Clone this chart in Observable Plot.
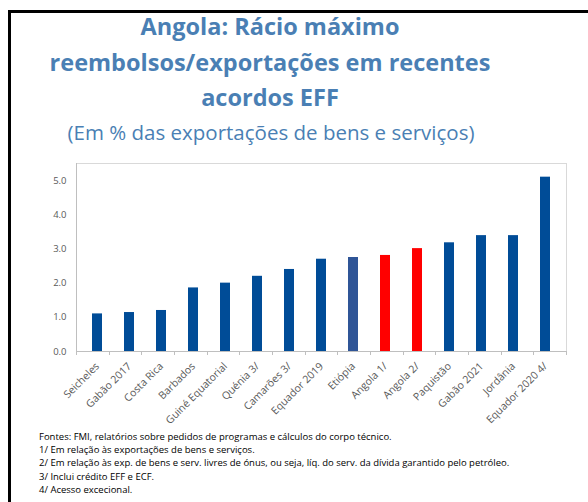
<!DOCTYPE html>
<html>
<head>
<meta charset="utf-8">
<script src="https://cdn.jsdelivr.net/npm/d3@7"></script>
<script src="https://cdn.jsdelivr.net/npm/@observablehq/plot@0.6"></script>
<style>
  html, body { margin: 0; padding: 0; background: #fff; width: 588px; height: 502px; overflow: hidden; position: relative; }
  #frame { position: absolute; left: 8px; top: 10px; width: 640px; height: 560px; border-left: 3px solid #000; border-top: 3px solid #000; box-sizing: border-box; }
  #title { position: absolute; left: 0; width: 540px; top: 9px; text-align: center; color: #4a7fb4; font-family: "Open Sans", sans-serif; font-weight: 700; font-size: 23.5px; line-height: 35.5px; }
  #subtitle { position: absolute; left: 0; width: 542px; top: 118px; text-align: center; color: #4a7fb4; font-family: "Open Sans", sans-serif; font-size: 20.5px; line-height: 28px; }
  #chart { position: absolute; left: 0; top: 150px; }
  #notes { position: absolute; left: 39px; top: 430px; font-family: "Open Sans", sans-serif; font-size: 9.5px; line-height: 13.2px; color: #000; }
</style>
</head>
<body>
<div id="frame"></div>
<div id="title">Angola: Rácio máximo<br>reembolsos/exportações em recentes<br>acordos EFF</div>
<div id="subtitle">(Em % das exportações de bens e serviços)</div>
<div id="chart"></div>
<div id="notes">
Fontes: FMI, relatórios sobre pedidos de programas e cálculos do corpo técnico.<br>
1/ Em relação às exportações de bens e serviços.<br>
2/ Em relação às exp. de bens e serv. livres de ónus, ou seja, líq. do serv. da dívida garantido pelo petróleo.<br>
3/ Inclui crédito EFF e ECF.<br>
4/ Acesso excecional.
</div>
<script>
const countries = ["Seicheles", "Gabão 2017", "Costa Rica", "Barbados", "Guiné Equatorial", "Quénia 3/", "Camarões 3/", "Equador 2019", "Etiópia", "Angola 1/", "Angola 2/", "Paquistão", "Gabão 2021", "Jordânia", "Equador 2020 4/"];
const values = [1.1, 1.14, 1.2, 1.86, 2.0, 2.2, 2.4, 2.7, 2.75, 2.81, 3.01, 3.18, 3.39, 3.39, 5.1];
const groups = ["outros", "outros", "outros", "outros", "outros", "outros", "outros", "outros", "Etiópia", "Angola", "Angola", "outros", "outros", "outros", "outros"];
const yTicks = [0, 1, 2, 3, 4, 5];

const data = countries.map((c, i) => ({country: c, value: values[i], group: groups[i]}));

const plot = Plot.plot({
  width: 588,
  height: 290,
  marginTop: 13,
  marginBottom: 89,
  marginLeft: 76,
  marginRight: 22,
  style: { fontFamily: "Open Sans, sans-serif", fontSize: "9.5px", color: "#595959", background: "transparent" },
  x: { domain: countries, paddingInner: 0.69, paddingOuter: 0.345, label: null, tickSize: 0, tickRotate: -45, tickPadding: 13 },
  y: { domain: [0, 5.5], ticks: yTicks, tickFormat: d3.format(".1f"), label: null, tickSize: 0, tickPadding: 10 },
  color: { domain: ["outros", "Etiópia", "Angola"], range: ["#004c97", "#2f5597", "#ff0000"] },
  marks: [
    Plot.frame({ stroke: "#d9d9d9" }),
    Plot.barY(data, { x: "country", y: "value", fill: "group" }),
    Plot.ruleY([0], { stroke: "#bfbfbf" })
  ]
});

const svg = d3.select(plot);
// x tick labels a little larger, like the reference
svg.selectAll('[aria-label^="x-axis"] text').style("font-size", "10.5px");

// left axis line and category boundary ticks from the scales
const xs = plot.scale("x");
const ys = plot.scale("y");
const [r0, r1] = xs.range;
const y0 = ys.apply(0);
const yTop = ys.apply(ys.domain[1]);
const g = svg.append("g").attr("stroke", "#bfbfbf");
g.append("line").attr("x1", r0 + 0.5).attr("x2", r0 + 0.5).attr("y1", yTop).attr("y2", y0);
const n = countries.length;
for (let i = 0; i <= n; i++) {
  const bx = Math.round(r0 + i * (r1 - r0) / n) + 0.5;
  g.append("line").attr("x1", bx).attr("x2", bx).attr("y1", y0).attr("y2", y0 + 4);
}
document.getElementById("chart").appendChild(plot);
</script>
</body>
</html>
